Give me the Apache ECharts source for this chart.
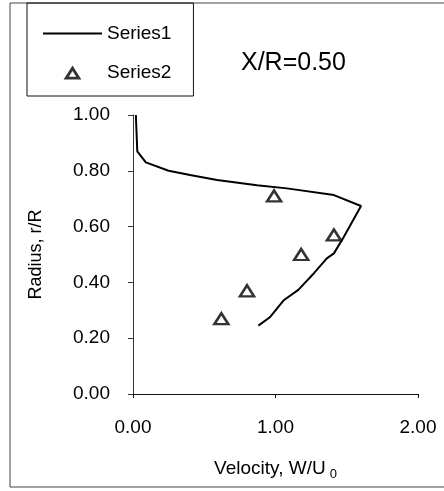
<!DOCTYPE html>
<html>
<head>
<meta charset="utf-8">
<script src="https://cdn.jsdelivr.net/npm/echarts@6/dist/echarts.min.js"></script>
<style>
  html, body { margin: 0; padding: 0; background: #fff; }
  #chart { width: 444px; height: 491px; }
</style>
</head>
<body>
<div id="chart"></div>
<script>
// Velocity profile at X/R = 0.50: computed curve and measured points
const seriesNames = ['Series1', 'Series2'];

// Series1: computed profile, [W/U0, r/R] in drawing order
const profileVelocity = [0.02, 0.03, 0.09, 0.25, 0.40, 0.59, 0.87, 1.08, 1.41, 1.60, 1.48, 1.41, 1.36, 1.27, 1.16, 1.06, 0.96, 0.88];
const profileRadius   = [1.00, 0.87, 0.83, 0.80, 0.785, 0.767, 0.748, 0.737, 0.713, 0.674, 0.564, 0.504, 0.486, 0.433, 0.373, 0.337, 0.275, 0.245];

// Series2: measured points
const measuredVelocity = [0.99, 1.41, 1.18, 0.80, 0.62];
const measuredRadius   = [0.71, 0.57, 0.50, 0.37, 0.27];

const xTicks = { min: 0, max: 2, step: 1 };
const yTicks = { min: 0, max: 1, step: 0.2 };

const caption = 'X/R=0.50';
const xTitle = 'Velocity, W/U{sub|0}';
const yTitle = 'Radius, r/R';

const pair = (xs, ys) => xs.map((x, i) => [x, ys[i]]);
const FONT = 'Liberation Sans, Arial, sans-serif';

// legend glyphs: a plain stroke for the curve, a hollow upward triangle for the points
const LINE_ICON = 'path://M0,0H59V2H0Z';
const TRI_ICON = 'path://M7,0L14,11L0,11Z M7,4.4L4.1,8.9L9.9,8.9Z';

const chart = echarts.init(document.getElementById('chart'), null, { renderer: 'canvas' });

chart.setOption({
  backgroundColor: '#fff',
  animation: false,
  textStyle: { fontFamily: FONT, color: '#000' },
  title: {
    text: caption,
    left: 236,
    top: 46,
    textStyle: { fontFamily: FONT, fontSize: 25, fontWeight: 'normal', color: '#000' }
  },
  legend: {
    orient: 'vertical',
    left: 27,
    top: 3,
    padding: [21, 22, 14, 16],
    borderColor: '#111',
    borderWidth: 1,
    itemWidth: 59,
    itemHeight: 14,
    itemGap: 20,
    textStyle: { fontFamily: FONT, fontSize: 19, color: '#000' },
    data: [
      { name: seriesNames[0], icon: LINE_ICON, itemStyle: { color: '#000', borderWidth: 0 } },
      { name: seriesNames[1], icon: TRI_ICON, itemStyle: { color: '#000', borderWidth: 0 } }
    ]
  },
  grid: { left: 133, right: 26, top: 115, bottom: 97, containLabel: false },
  xAxis: {
    type: 'value',
    min: xTicks.min,
    max: xTicks.max,
    interval: xTicks.step,
    splitLine: { show: false },
    axisLine: { lineStyle: { color: '#111', width: 1 } },
    axisTick: { show: true, length: 4, lineStyle: { color: '#111' } },
    axisLabel: {
      margin: 24,
      fontFamily: FONT,
      fontSize: 19,
      color: '#000',
      formatter: v => v.toFixed(2)
    },
    name: xTitle,
    nameLocation: 'middle',
    nameGap: 62,
    nameTextStyle: {
      fontFamily: FONT,
      fontSize: 19,
      color: '#000',
      rich: {
        sub: { fontFamily: FONT, fontSize: 13, color: '#000', padding: [12, 0, 0, 4] }
      }
    }
  },
  yAxis: {
    type: 'value',
    min: yTicks.min,
    max: yTicks.max,
    interval: yTicks.step,
    splitLine: { show: false },
    axisLine: { show: true, lineStyle: { color: '#333', width: 1 } },
    axisTick: { show: true, length: 5, lineStyle: { color: '#333' } },
    axisLabel: {
      margin: 23,
      fontFamily: FONT,
      fontSize: 19,
      color: '#000',
      formatter: v => v.toFixed(2)
    },
    name: yTitle,
    nameLocation: 'middle',
    nameGap: 88,
    nameRotate: 90,
    nameTextStyle: { fontFamily: FONT, fontSize: 18, color: '#000' }
  },
  graphic: [
    // outer chart frame
    { type: 'line', shape: { x1: 10, y1: 3, x2: 10, y2: 487 }, style: { stroke: '#444', lineWidth: 1 } },
    { type: 'line', shape: { x1: 10, y1: 3, x2: 444, y2: 3 }, style: { stroke: '#444', lineWidth: 1 } },
    { type: 'line', shape: { x1: 10, y1: 487, x2: 444, y2: 487 }, style: { stroke: '#444', lineWidth: 1 } }
  ],
  series: [
    {
      name: seriesNames[0],
      type: 'line',
      data: pair(profileVelocity, profileRadius),
      symbol: 'none',
      smooth: false,
      lineStyle: { color: '#000', width: 2 },
      itemStyle: { color: '#000' }
    },
    {
      name: seriesNames[1],
      type: 'scatter',
      data: pair(measuredVelocity, measuredRadius),
      symbol: 'triangle',
      symbolSize: [14, 11],
      itemStyle: { color: '#fff', borderColor: '#000', borderWidth: 2.5 }
    }
  ]
});
</script>
</body>
</html>
